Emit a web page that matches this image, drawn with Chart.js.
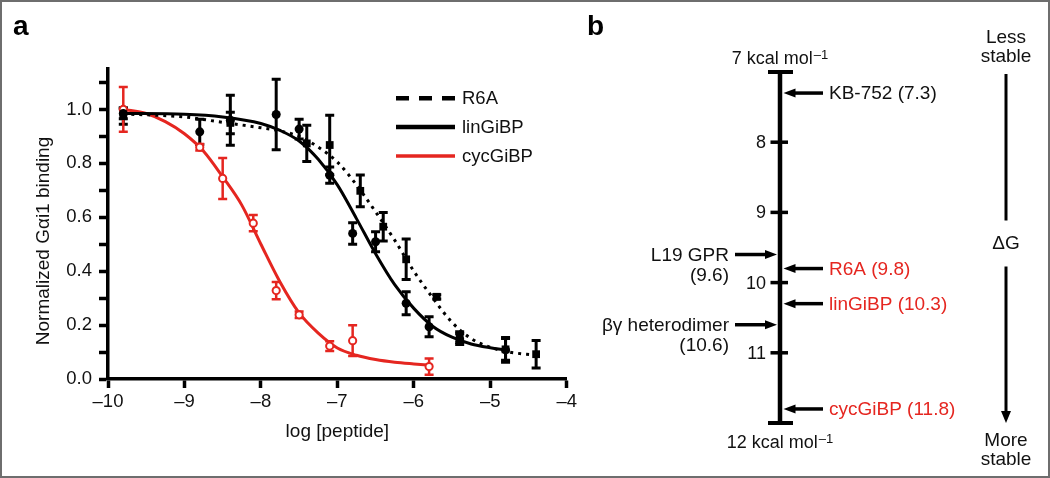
<!DOCTYPE html>
<html>
<head>
<meta charset="utf-8">
<script src="https://cdn.jsdelivr.net/npm/chart.js@4.4.1/dist/chart.umd.min.js"></script>
<style>
  html, body { margin: 0; padding: 0; background: #fff; }
  #wrap { position: relative; width: 1050px; height: 478px; overflow: hidden; }
  #chartA { position: absolute; left: 0; top: 0; }
  #chartB { position: absolute; left: 580px; top: 0; }
  #frame { position: absolute; left: 0; top: 0; width: 1050px; height: 478px; box-sizing: border-box; border: 2px solid #6e6e6e; pointer-events: none; }
</style>
</head>
<body>
<div id="wrap">
  <canvas id="chartA" width="580" height="478"></canvas>
  <canvas id="chartB" width="470" height="478"></canvas>
  <div id="frame"></div>
</div>
<script>
var FONT = '"Liberation Sans", Arial, Helvetica, sans-serif';
var RED = '#e52620';
var INK = '#111';

// ---- panel a : measured points (mean +/- error) ----
var linX   = [-9.8, -8.8, -8.4, -7.8, -7.5, -7.1, -6.8, -6.5, -6.1, -5.8, -5.4, -4.8];
var linY   = [0.985, 0.917, 0.96, 0.981, 0.927, 0.756, 0.54, 0.509, 0.281, 0.194, 0.148, 0.108];
var linErr = [0.02, 0.047, 0.093, 0.131, 0.037, 0.03, 0.04, 0.037, 0.043, 0.037, 0.02, 0.046];

var r6aX   = [-9.8, -8.4, -7.4, -7.1, -6.7, -6.4, -6.1, -5.7, -5.4, -4.8, -4.4];
var r6aY   = [0.975, 0.95, 0.874, 0.868, 0.698, 0.565, 0.444, 0.305, 0.155, 0.11, 0.092];
var r6aErr = [0.03, 0.04, 0.067, 0.11, 0.059, 0.053, 0.075, 0.008, 0.02, 0.04, 0.051];

var cycX   = [-9.8, -8.8, -8.5, -8.1, -7.8, -7.5, -7.1, -6.8, -5.8];
var cycY   = [1.0, 0.86, 0.744, 0.578, 0.328, 0.238, 0.122, 0.142, 0.046];
var cycErr = [0.083, 0.012, 0.076, 0.03, 0.032, 0.012, 0.018, 0.057, 0.03];

// ---- panel a : fitted curves ----
var linCurveX = [-9.8, -9.0, -8.5, -8.0, -7.75, -7.5, -7.25, -7.0, -6.75, -6.5, -6.25, -6.0, -5.75, -5.5, -5.25, -5.0, -4.8];
var linCurveY = [0.985, 0.982, 0.972, 0.948, 0.922, 0.883, 0.815, 0.72, 0.595, 0.465, 0.35, 0.262, 0.195, 0.155, 0.13, 0.116, 0.108];

var r6aCurveX = [-9.8, -9.5, -9.0, -8.5, -8.0, -7.75, -7.5, -7.25, -7.0, -6.75, -6.5, -6.25, -6.0, -5.75, -5.5, -5.25, -5.0, -4.75, -4.4];
var r6aCurveY = [0.983, 0.98, 0.972, 0.952, 0.932, 0.92, 0.9, 0.86, 0.805, 0.72, 0.62, 0.515, 0.4, 0.3, 0.21, 0.15, 0.118, 0.1, 0.088];

var cycCurveX = [-9.8, -9.5, -9.25, -9.0, -8.75, -8.5, -8.25, -8.0, -7.75, -7.5, -7.25, -7.0, -6.75, -6.5, -6.25, -6.0, -5.8];
var cycCurveY = [1.0, 0.985, 0.955, 0.91, 0.845, 0.75, 0.645, 0.5, 0.36, 0.245, 0.17, 0.115, 0.088, 0.072, 0.062, 0.056, 0.052];

var xTicks = [-10, -9, -8, -7, -6, -5, -4];
var yTicks = [0, 0.1, 0.2, 0.3, 0.4, 0.5, 0.6, 0.7, 0.8, 0.9, 1.0, 1.1];

// ---- panel b : binding energies (kcal/mol) ----
var bMin = 7, bMax = 12;
var bTicks = [8, 9, 10, 11];
var rightNames  = ['KB-752', 'R6A', 'linGiBP', 'cycGiBP'];
var rightVals   = [7.3, 9.8, 10.3, 11.8];
var rightColors = [INK, RED, RED, RED];
var leftNames = ['L19 GPR', '\u03b2\u03b3 heterodimer'];
var leftVals  = [9.6, 10.6];

function pts(xs, ys) {
  return xs.map(function (x, i) { return { x: x, y: ys[i] }; });
}

var errorBars = {
  id: 'errorBars',
  beforeDatasetsDraw: function (chart) {
    var ctx = chart.ctx, ys = chart.scales.y;
    chart.data.datasets.forEach(function (ds, di) {
      if (!ds.errors) return;
      var meta = chart.getDatasetMeta(di);
      ctx.save();
      ctx.strokeStyle = ds.borderColor;
      ctx.lineWidth = ds.errWidth;
      meta.data.forEach(function (pt, i) {
        var v = ds.data[i].y, e = ds.errors[i];
        var top = ys.getPixelForValue(v + e), bot = ys.getPixelForValue(v - e);
        ctx.beginPath();
        ctx.moveTo(pt.x, top); ctx.lineTo(pt.x, bot);
        ctx.moveTo(pt.x - 4.5, top); ctx.lineTo(pt.x + 4.5, top);
        ctx.moveTo(pt.x - 4.5, bot); ctx.lineTo(pt.x + 4.5, bot);
        ctx.stroke();
      });
      ctx.restore();
    });
  }
};

var curveLegend = {
  id: 'curveLegend',
  afterDraw: function (chart) {
    var ctx = chart.ctx, n = 0;
    chart.data.datasets.forEach(function (ds) {
      if (!ds.label) return;
      var y = 98.3 + 28.8 * n;
      ctx.save();
      ctx.strokeStyle = ds.borderColor;
      ctx.lineWidth = ds.legendWidth;
      ctx.setLineDash(ds.legendDash || []);
      ctx.beginPath(); ctx.moveTo(396, y); ctx.lineTo(455, y); ctx.stroke();
      ctx.setLineDash([]);
      ctx.fillStyle = INK;
      ctx.font = '18.5px ' + FONT;
      ctx.textBaseline = 'middle';
      ctx.fillText(ds.label, 462, y + 1);
      ctx.restore();
      n++;
    });
  }
};

var textsA = {
  id: 'textsA',
  afterDraw: function (chart) {
    var ctx = chart.ctx, ca = chart.chartArea;
    ctx.save();
    ctx.fillStyle = '#000';
    ctx.font = 'bold 28px ' + FONT;
    ctx.textBaseline = 'alphabetic';
    ctx.fillText('a', 13, 35);
    ctx.fillStyle = INK;
    ctx.font = '19px ' + FONT;
    ctx.textAlign = 'center';
    ctx.textBaseline = 'middle';
    ctx.fillText('log [peptide]', (ca.left + ca.right) / 2, 432);
    ctx.translate(44, 241);
    ctx.rotate(-Math.PI / 2);
    ctx.fillText('Normalized G\u03b1i1 binding', 0, 0);
    ctx.restore();
  }
};

new Chart('chartA', {
  type: 'scatter',
  data: {
    datasets: [
      { data: pts(linX, linY), errors: linErr, errWidth: 3, pointStyle: 'circle', pointRadius: 4.5,
        backgroundColor: '#000', borderColor: '#000', borderWidth: 0, clip: false },
      { data: pts(r6aX, r6aY), errors: r6aErr, errWidth: 3, pointStyle: 'rect', pointRadius: 5.5,
        backgroundColor: '#000', borderColor: '#000', borderWidth: 0, clip: false },
      { data: pts(cycX, cycY), errors: cycErr, errWidth: 2.5, pointStyle: 'circle', pointRadius: 3.6,
        backgroundColor: '#fff', borderColor: RED, borderWidth: 2, clip: false },
      { label: 'R6A', data: pts(r6aCurveX, r6aCurveY), showLine: true, borderColor: '#000', borderWidth: 3,
        borderDash: [3, 5], legendDash: [13, 10], legendWidth: 4.5, pointRadius: 0,
        cubicInterpolationMode: 'monotone', fill: false },
      { label: 'linGiBP', data: pts(linCurveX, linCurveY), showLine: true, borderColor: '#000', borderWidth: 3,
        legendWidth: 4.5, pointRadius: 0, cubicInterpolationMode: 'monotone', fill: false },
      { label: 'cycGiBP', data: pts(cycCurveX, cycCurveY), showLine: true, borderColor: RED, borderWidth: 3,
        legendWidth: 3.5, pointRadius: 0, cubicInterpolationMode: 'monotone', fill: false }
    ]
  },
  options: {
    responsive: false,
    animation: false,
    events: [],
    layout: { padding: { left: 0, right: 11.5, top: 69, bottom: 0 } },
    plugins: { legend: { display: false }, tooltip: { enabled: false } },
    scales: {
      x: {
        type: 'linear', min: -10, max: -4,
        afterFit: function (s) { s.height = 99; },
        afterBuildTicks: function (s) { s.ticks = xTicks.map(function (v) { return { value: v }; }); },
        ticks: {
          autoSkip: false, maxRotation: 0, padding: 3, color: INK,
          font: { family: FONT, size: 18.5 },
          callback: function (v) { return (v < 0 ? '\u2013' : '') + Math.abs(v); }
        },
        grid: { drawOnChartArea: false, tickLength: 9, tickWidth: 3.5, tickColor: '#000' },
        border: { width: 3.5, color: '#000' }
      },
      y: {
        type: 'linear', min: 0, max: 1.15,
        afterFit: function (s) { s.width = 108; },
        afterBuildTicks: function (s) { s.ticks = yTicks.map(function (v) { return { value: v }; }); },
        ticks: {
          autoSkip: false, padding: 7, color: INK,
          font: { family: FONT, size: 18.5 },
          callback: function (v) { return Math.round(v * 10) % 2 === 0 ? v.toFixed(1) : ''; }
        },
        grid: { drawOnChartArea: false, tickLength: 9, tickWidth: 3.5, tickColor: '#000' },
        border: { width: 3.5, color: '#000' }
      }
    }
  },
  plugins: [errorBars, curveLegend, textsA]
});

// ---- panel b ----
function supLabel(ctx, main, sup, cx, cy) {
  ctx.save();
  ctx.font = '18px ' + FONT;
  var w1 = ctx.measureText(main).width;
  ctx.font = '13px ' + FONT;
  var w2 = ctx.measureText(sup).width;
  var x0 = cx - (w1 + w2 + 1) / 2;
  ctx.textAlign = 'left';
  ctx.textBaseline = 'alphabetic';
  ctx.font = '18px ' + FONT;
  ctx.fillText(main, x0, cy + 6.5);
  ctx.font = '13px ' + FONT;
  ctx.fillText(sup, x0 + w1 + 1, cy + 2);
  ctx.restore();
}

function arrow(ctx, tail, tip, y, vertical) {
  var dir = tip > tail ? 1 : -1;
  ctx.beginPath();
  if (!vertical) {
    ctx.lineWidth = 3.5;
    ctx.moveTo(tail, y); ctx.lineTo(tip - dir * 10, y); ctx.stroke();
    ctx.beginPath();
    ctx.moveTo(tip, y); ctx.lineTo(tip - dir * 12, y - 4.5); ctx.lineTo(tip - dir * 12, y + 4.5);
  } else {
    ctx.lineWidth = 3;
    ctx.moveTo(y, tail); ctx.lineTo(y, tip - dir * 10); ctx.stroke();
    ctx.beginPath();
    ctx.moveTo(y, tip); ctx.lineTo(y - 5, tip - dir * 12); ctx.lineTo(y + 5, tip - dir * 12);
  }
  ctx.closePath();
  ctx.fill();
}

var energyScale = {
  id: 'energyScale',
  afterDatasetsDraw: function (chart) {
    var ctx = chart.ctx, xs = chart.scales.x, ys = chart.scales.y;
    var ax = xs.getPixelForValue(0);
    var yTop = ys.getPixelForValue(bMin), yBot = ys.getPixelForValue(bMax);
    ctx.save();
    ctx.fillStyle = '#000';
    ctx.strokeStyle = '#000';

    ctx.font = 'bold 28px ' + FONT;
    ctx.fillText('b', 7, 35);

    // scale bar, end caps, ticks
    ctx.fillRect(ax - 2.25, yTop, 4.5, yBot - yTop);
    ctx.fillRect(ax - 12, yTop - 2, 25, 4);
    ctx.fillRect(ax - 12, yBot - 2, 25, 4);
    ctx.font = '18px ' + FONT;
    ctx.textBaseline = 'middle';
    ctx.textAlign = 'right';
    bTicks.forEach(function (t) {
      var y = ys.getPixelForValue(t);
      ctx.fillStyle = '#000';
      ctx.fillRect(ax - 9.5, y - 1.75, 17.5, 3.5);
      ctx.fillStyle = INK;
      ctx.fillText(String(t), ax - 14, y + 1);
    });
    ctx.fillStyle = INK;
    supLabel(ctx, bMin + ' kcal mol', '\u20131', ax, yTop - 15);
    supLabel(ctx, bMax + ' kcal mol', '\u20131', ax, yBot + 18);

    // peptides / partners
    chart.data.datasets.forEach(function (ds, di) {
      var meta = chart.getDatasetMeta(di);
      meta.data.forEach(function (pt, i) {
        var y = pt.y, v = ds.data[i].y;
        ctx.fillStyle = '#000';
        ctx.strokeStyle = '#000';
        ctx.font = '19px ' + FONT;
        if (ds.side === 'right') {
          arrow(ctx, pt.x + 43, pt.x + 3.5, y, false);
          ctx.textAlign = 'left';
          ctx.fillStyle = ds.colors[i];
          ctx.fillText(ds.names[i] + ' (' + v.toFixed(1) + ')', pt.x + 49, y + 1);
        } else {
          arrow(ctx, pt.x - 45, pt.x - 3, y, false);
          ctx.textAlign = 'right';
          ctx.fillStyle = INK;
          ctx.fillText(ds.names[i], pt.x - 51, y + 1);
          ctx.fillText('(' + v.toFixed(1) + ')', pt.x - 51, y + 21);
        }
      });
    });

    // stability direction
    var cx = ax + 226, yMid = (yTop + yBot) / 2 - 5;
    ctx.fillStyle = INK;
    ctx.font = '19px ' + FONT;
    ctx.textAlign = 'center';
    ctx.fillText('Less', cx, yTop - 34);
    ctx.fillText('stable', cx, yTop - 15);
    ctx.fillText('\u0394G', cx, yMid + 1);
    ctx.fillText('More', cx, yBot + 18);
    ctx.fillText('stable', cx, yBot + 37);
    ctx.fillStyle = '#000';
    ctx.lineWidth = 3;
    ctx.beginPath(); ctx.moveTo(cx, yTop + 2); ctx.lineTo(cx, yMid - 22); ctx.stroke();
    arrow(ctx, yMid + 24, yBot, cx, true);
    ctx.restore();
  }
};

new Chart('chartB', {
  type: 'scatter',
  data: {
    datasets: [
      { data: rightVals.map(function (v) { return { x: 0, y: v }; }), names: rightNames, colors: rightColors,
        side: 'right', pointRadius: 0 },
      { data: leftVals.map(function (v) { return { x: 0, y: v }; }), names: leftNames,
        side: 'left', pointRadius: 0 }
    ]
  },
  options: {
    responsive: false,
    animation: false,
    events: [],
    layout: { padding: { left: 0, right: 0, top: 72, bottom: 55 } },
    plugins: { legend: { display: false }, tooltip: { enabled: false } },
    scales: {
      x: { type: 'linear', display: false, min: -200, max: 270 },
      y: { type: 'linear', display: false, min: bMin, max: bMax, reverse: true }
    }
  },
  plugins: [energyScale]
});
</script>
</body>
</html>
